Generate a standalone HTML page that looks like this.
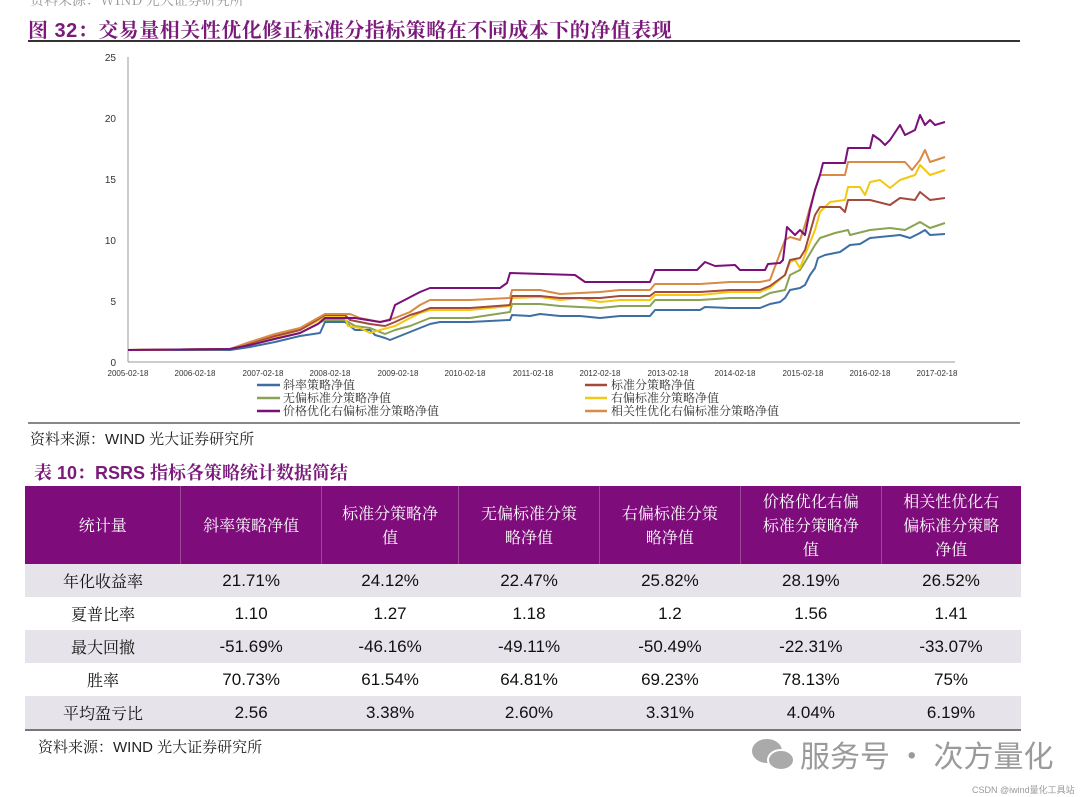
<!DOCTYPE html>
<html><head><meta charset="utf-8"><style>
body{margin:0;width:1080px;height:797px;background:#fff;position:relative;overflow:hidden;font-family:"Liberation Sans","Noto Sans CJK SC",sans-serif}
.a{position:absolute;white-space:nowrap}
table{position:absolute;left:25px;top:486px;width:996px;border-collapse:collapse;font-size:17px;color:#111}
td{text-align:center;height:33px;padding:0}
th{background:#7e0c7b;color:#fff;font-weight:normal;font-family:"Noto Serif CJK SC",serif;font-size:16px;line-height:24px;height:76px;border-left:1px solid #9b4a98}
tr.g td{background:#e6e3ea}
td.c{font-family:"Noto Serif CJK SC",serif;font-size:16px}
</style></head><body>
<div class="a" style="left:30px;top:-10px;font-size:14px;color:#999;font-family:'Noto Serif CJK SC',serif">资料来源：WIND 光大证券研究所</div>
<div class="a" style="left:28px;top:14px;font-size:20px;font-weight:bold;color:#7b1a7a;letter-spacing:0.5px;font-family:'Liberation Sans','Noto Serif CJK SC',serif">图 32：交易量相关性优化修正标准分指标策略在不同成本下的净值表现</div>
<div class="a" style="left:28px;top:40px;width:992px;height:2px;background:#333"></div>
<svg class="a" style="left:0;top:0" width="1080" height="430">
<g font-family="Liberation Sans" font-size="10" fill="#333" text-anchor="end">
<text x="116" y="61">25</text><text x="116" y="122">20</text><text x="116" y="183">15</text><text x="116" y="244">10</text><text x="116" y="305">5</text><text x="116" y="366">0</text></g>
<line x1="128" y1="57" x2="128" y2="362" stroke="#999"/><line x1="128" y1="362" x2="955" y2="362" stroke="#999"/>
<g font-family="Liberation Sans" font-size="8" fill="#333" text-anchor="middle">
<text x="128" y="376">2005-02-18</text><text x="195" y="376">2006-02-18</text><text x="263" y="376">2007-02-18</text><text x="330" y="376">2008-02-18</text><text x="398" y="376">2009-02-18</text><text x="465" y="376">2010-02-18</text><text x="533" y="376">2011-02-18</text><text x="600" y="376">2012-02-18</text><text x="668" y="376">2013-02-18</text><text x="735" y="376">2014-02-18</text><text x="803" y="376">2015-02-18</text><text x="870" y="376">2016-02-18</text><text x="937" y="376">2017-02-18</text></g>
<g fill="none" stroke-width="2" stroke-linejoin="round">
<polyline stroke="#3d6fa5" points="128,350 230,350 250,347 275,342 300,336 320,333 325,322 345,322 350,326 355,330 370,330 375,335 385,338 390,340 400,336 410,332 420,328 430,324 440,322 470,322 510,320 512,315 530,316 540,314 560,316 580,316 600,318 620,316 650,316 655,310 700,310 705,307 730,308 760,308 770,304 780,302 785,298 790,290 800,288 805,285 810,275 815,268 818,258 825,255 840,252 850,245 860,244 870,238 900,235 910,238 920,233 925,230 930,235 945,234"/>
<polyline stroke="#8aa352" points="128,350 230,349 250,345 275,339 300,333 325,320 345,320 355,326 370,328 385,334 395,330 410,326 420,322 430,318 470,318 510,312 512,304 540,304 560,306 600,308 620,306 650,306 655,300 700,300 730,298 760,298 770,293 785,290 790,275 800,270 805,262 815,245 820,238 835,233 848,230 850,235 870,230 890,228 905,230 920,222 930,228 945,223"/>
<polyline stroke="#f2c811" points="128,350 230,349 250,344 275,337 300,330 325,317 345,317 348,326 360,328 370,333 380,330 395,326 410,318 420,313 430,310 470,310 510,306 512,298 540,297 560,300 580,298 600,302 620,300 650,300 655,295 700,295 730,292 760,292 770,288 785,275 790,262 795,260 800,268 805,255 815,230 820,212 830,202 845,200 848,187 860,187 865,195 870,182 880,180 890,188 900,180 915,175 920,165 930,175 945,170"/>
<polyline stroke="#a34a3f" points="128,350 230,349 250,343 275,336 300,330 325,315 345,315 350,320 370,324 385,326 395,322 410,315 420,312 430,308 470,308 510,305 512,296 540,296 560,298 600,298 620,296 650,296 655,292 700,292 730,290 760,290 770,286 785,275 790,260 800,258 805,250 815,215 820,207 840,207 845,212 848,200 870,200 890,205 900,198 915,200 920,192 930,200 945,198"/>
<polyline stroke="#d98a45" points="128,350 230,349 250,342 275,334 300,328 325,314 350,314 360,318 380,322 395,318 410,312 420,305 430,300 470,300 510,298 512,290 540,290 560,294 600,292 620,290 650,290 655,284 700,284 730,282 760,282 770,280 785,240 790,237 800,240 805,225 815,190 820,175 845,175 848,162 905,162 912,170 920,160 925,150 930,162 945,157"/>
<polyline stroke="#7a0f7a" points="128,350 230,349 250,345 270,340 300,333 318,324 325,318 355,318 380,322 390,320 395,305 420,292 430,288 500,288 507,283 510,273 575,275 585,282 620,282 650,282 655,270 697,270 705,262 715,266 735,265 740,270 765,270 768,264 780,263 783,260 787,227 795,235 800,230 805,235 810,210 815,190 820,175 823,163 845,163 848,148 870,148 873,135 880,140 885,145 890,140 900,125 905,135 915,130 920,115 925,125 930,120 935,125 945,122"/>
</g>
<g stroke-width="2.5"><line x1="257" y1="385" x2="280" y2="385" stroke="#3d6fa5"/><line x1="257" y1="398" x2="280" y2="398" stroke="#8aa352"/><line x1="257" y1="411" x2="280" y2="411" stroke="#7a0f7a"/>
<line x1="585" y1="385" x2="607" y2="385" stroke="#a34a3f"/><line x1="585" y1="398" x2="607" y2="398" stroke="#f2c811"/><line x1="585" y1="411" x2="607" y2="411" stroke="#d98a45"/></g>
<g font-family="Noto Serif CJK SC,serif" font-size="12" fill="#333">
<text x="283" y="389">斜率策略净值</text><text x="283" y="402">无偏标准分策略净值</text><text x="283" y="415">价格优化右偏标准分策略净值</text>
<text x="611" y="389">标准分策略净值</text><text x="611" y="402">右偏标准分策略净值</text><text x="611" y="415">相关性优化右偏标准分策略净值</text></g>
<line x1="28" y1="423" x2="1020" y2="423" stroke="#888" stroke-width="2"/>
</svg>
<div class="a" style="left:30px;top:428px;font-size:15px;color:#222;font-family:'Liberation Sans','Noto Serif CJK SC',serif">资料来源：WIND 光大证券研究所</div>
<div class="a" style="left:34px;top:459px;font-size:18px;font-weight:bold;color:#7b1a7a;font-family:'Liberation Sans','Noto Serif CJK SC',serif">表 10：RSRS 指标各策略统计数据简结</div>
<table>
<tr><th style="width:158px;border-left:none">统计量</th><th style="width:140px">斜率策略净值</th><th style="width:137px">标准分策略净<br>值</th><th style="width:140px">无偏标准分策<br>略净值</th><th style="width:141px">右偏标准分策<br>略净值</th><th style="width:140px">价格优化右偏<br>标准分策略净<br>值</th><th style="width:140px">相关性优化右<br>偏标准分策略<br>净值</th></tr>
<tr class="g"><td class="c">年化收益率</td><td>21.71%</td><td>24.12%</td><td>22.47%</td><td>25.82%</td><td>28.19%</td><td>26.52%</td></tr>
<tr><td class="c">夏普比率</td><td>1.10</td><td>1.27</td><td>1.18</td><td>1.2</td><td>1.56</td><td>1.41</td></tr>
<tr class="g"><td class="c">最大回撤</td><td>-51.69%</td><td>-46.16%</td><td>-49.11%</td><td>-50.49%</td><td>-22.31%</td><td>-33.07%</td></tr>
<tr><td class="c">胜率</td><td>70.73%</td><td>61.54%</td><td>64.81%</td><td>69.23%</td><td>78.13%</td><td>75%</td></tr>
<tr class="g" style="border-bottom:2px solid #777"><td class="c">平均盈亏比</td><td>2.56</td><td>3.38%</td><td>2.60%</td><td>3.31%</td><td>4.04%</td><td>6.19%</td></tr>
</table>
<div class="a" style="left:38px;top:736px;font-size:15px;color:#222;font-family:'Liberation Sans','Noto Serif CJK SC',serif">资料来源：WIND 光大证券研究所</div>
<svg class="a" style="left:750px;top:735px" width="50" height="40"><ellipse cx="17" cy="16" rx="15" ry="12" fill="#aaa"/><ellipse cx="31" cy="25" rx="13" ry="10" fill="#aaa" stroke="#fff" stroke-width="2"/></svg>
<div class="a" style="left:800px;top:732px;font-size:30px;color:#9a9a9a;font-family:'Noto Sans CJK SC',sans-serif">服务号 · 次方量化</div>
<div class="a" style="left:972px;top:783px;font-size:9px;color:#999">CSDN @iwind量化工具站</div>
</body></html>
